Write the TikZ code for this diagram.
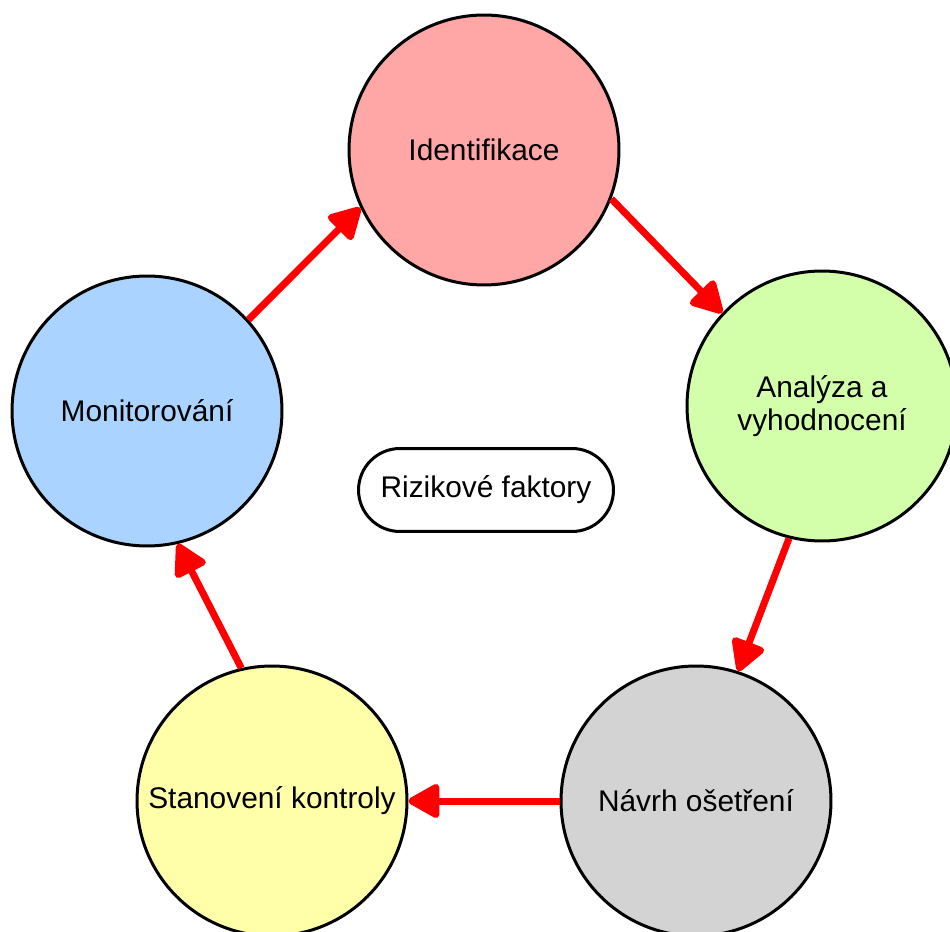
\documentclass[tikz,border=0pt]{standalone}
\usepackage{fontspec}
\setmainfont{Liberation Sans}
\usetikzlibrary{positioning}
\usetikzlibrary{arrows.meta}

\definecolor{identfill}{RGB}{255,166,166}
\definecolor{analfill}{RGB}{212,255,170}
\definecolor{navrhfill}{RGB}{211,211,211}
\definecolor{kontrfill}{RGB}{255,255,170}
\definecolor{monitfill}{RGB}{170,212,255}

\begin{document}
\begin{tikzpicture}
			[x=0.02cm, y=-0.02cm,
			 every node/.style={font=\fontsize{17}{18.5}\selectfont, align=center},
			 stage/.style={circle,draw=black,line width=0.06cm,minimum size=5.4cm,inner sep=0pt},
			 hub/.style={draw=black,line width=0.06cm,rounded corners=0.83cm,minimum width=5.1cm,minimum height=1.66cm},
			 connect/.style={red,line width=0.14cm,-{Triangle[length=0.7cm,width=0.74cm,round]}}]
			\useasboundingbox (0,0) rectangle (950,932);

			\node (ident) [stage,fill=identfill] at (484,150) {Identifikace};
			\node (anal)  [stage,fill=analfill]  at (822,406) {Analýza a\\vyhodnocení};
			\node (navrh) [stage,fill=navrhfill] at (696,801) {Návrh ošetření};
			\node (kontr) [stage,fill=kontrfill] at (272,801) {Stanovení kontroly};
			\node (monit) [stage,fill=monitfill] at (147,411) {Monitorování};
			\node (hub)   [hub] at (486,490) {Rizikové faktory};

			\draw [connect] (ident.-21.6) -- (anal.137);
			\draw [connect] (anal.-104) -- (navrh.72);
			\draw [connect] (navrh.180) -- (kontr.0);
			\draw [connect] (kontr.103) -- (monit.-77);
			\draw [connect] (monit.42) -- (ident.-155);
		\end{tikzpicture}
\end{document}
